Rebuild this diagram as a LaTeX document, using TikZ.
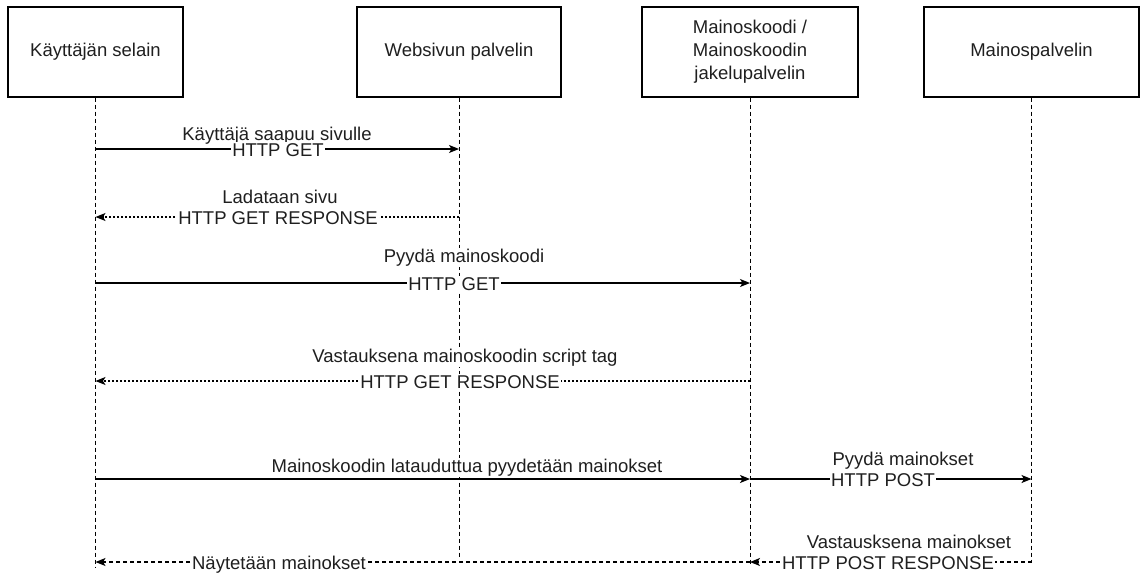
\documentclass[tikz,border=0pt]{standalone}
\usepackage{fontspec}
\setmainfont{Liberation Sans}
\usetikzlibrary{arrows.meta}
\begin{document}
\begin{tikzpicture}[x=1pt,y=-1pt,
  every node/.style={font=\fontsize{18.5}{23}\selectfont, text=black!88},
  actor/.style={draw, line width=1.1pt, minimum height=90pt, inner sep=0pt, align=center},
  life/.style={dash pattern=on 4pt off 3pt, line width=0.9pt},
  msg/.style={line width=1.2pt, -{Stealth[length=10pt,width=8pt,inset=2.5pt]}},
  reply/.style={msg, dash pattern=on 1.8pt off 2.2pt},
  reply2/.style={msg, dash pattern=on 4pt off 3pt},
  lbl/.style={anchor=base, fill=white, inner xsep=1pt, inner ysep=1pt}
]
\useasboundingbox (0,0) rectangle (1140,574);

% actors
\node[actor, minimum width=175pt] (b1) at (95.5,52) {Käyttäjän selain};
\node[actor, minimum width=204pt] (b2) at (459,52) {Websivun palvelin};
\node[actor, minimum width=216pt] (b3) at (750,52) {Mainoskoodi /\\Mainoskoodin\\jakelupalvelin};
\node[actor, minimum width=215pt] (b4) at (1031.5,52) {Mainospalvelin};

% lifeline ends
\coordinate (e1) at (95.5,568);
\coordinate (e2) at (459,558);
\coordinate (e3) at (750,565);
\coordinate (e4) at (1031.5,562);
\draw[life] (b1.south) -- (e1);
\draw[life] (b2.south) -- (e2);
\draw[life] (b3.south) -- (e3);
\draw[life] (b4.south) -- (e4);

% message end points
\coordinate (m1a) at (95.5,149);  \coordinate (m1b) at (459,149);
\coordinate (m2a) at (459,217);   \coordinate (m2b) at (95.5,217);
\coordinate (m3a) at (95.5,283);  \coordinate (m3b) at (750,283);
\coordinate (m4a) at (750,381);   \coordinate (m4b) at (95.5,381);
\coordinate (m5a) at (95.5,479);  \coordinate (m5b) at (750,479);
\coordinate (m6a) at (750,479);   \coordinate (m6b) at (1031.5,479);
\coordinate (m7b) at (750,562);
\coordinate (m8b) at (95.5,562);

% upper labels
\node[lbl] (u1) at (277,140) {Käyttäjä saapuu sivulle};
\node[lbl] (u2) at (280,203) {Ladataan sivu};
\node[lbl] (u3) at (464,262) {Pyydä mainoskoodi};
\node[lbl] (u4) at (465,362) {Vastauksena mainoskoodin script tag};
\node[lbl] (u5) at (467,472) {Mainoskoodin latauduttua pyydetään mainokset};
\node[lbl] (u6) at (903,465) {Pyydä mainokset};
\node[lbl] (u7) at (909,548) {Vastausksena mainokset};

% arrows
\draw[msg] (m1a) -- (m1b);
\draw[reply] (m2a) -- (m2b);
\draw[msg] (m3a) -- (m3b);
\draw[reply] (m4a) -- (m4b);
\draw[msg] (m5a) -- (m5b);
\draw[msg] (m6a) -- (m6b);
\draw[reply2] (e4) -- (m7b);
\draw[reply2] (m7b) -- (m8b);

% labels on arrows
\node[lbl] (l1) at (278,156) {HTTP GET};
\node[lbl] (l2) at (278,224) {HTTP GET RESPONSE};
\node[lbl] (l3) at (454,290) {HTTP GET};
\node[lbl] (l4) at (460,388) {HTTP GET RESPONSE};
\node[lbl] (l6) at (883,486) {HTTP POST};
\node[lbl] (l7) at (888,569) {HTTP POST RESPONSE};
\node[lbl] (l8) at (279,569) {Näytetään mainokset};
\end{tikzpicture}
\end{document}
